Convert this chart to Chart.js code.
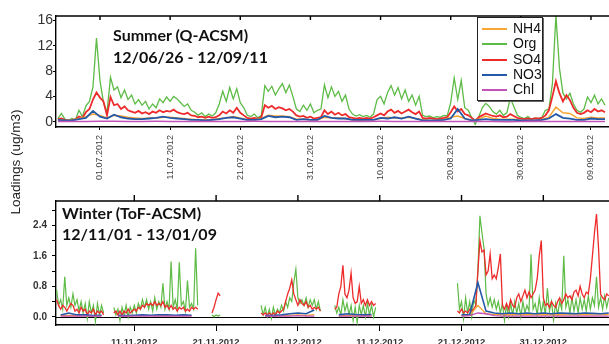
<!DOCTYPE html>
<html>
<head>
<meta charset="utf-8">
<script src="https://cdn.jsdelivr.net/npm/chart.js@4.4.1/dist/chart.umd.min.js"></script>
<style>
html, body { margin: 0; padding: 0; background: #fff; overflow: hidden; }
#wrap { position: relative; width: 609px; height: 344px; overflow: hidden; }
canvas { position: absolute; left: 0; }
#cSum { top: 0; }
#cWin { top: 190px; }
.ttl { position: absolute; font-family: Lato, "Open Sans", sans-serif; font-weight: 700; font-size: 16px; color: #111; white-space: nowrap; }
#ylab { position: absolute; left: -84px; top: 154px; width: 200px; height: 16px; line-height: 16px; text-align: center;
        font-family: "Liberation Sans", Arial, sans-serif; font-size: 13.5px; color: #222; transform: rotate(-90deg); }
#legend { position: absolute; left: 477px; top: 17px; width: 66px; height: 84px; box-sizing: border-box;
          border: 1px solid #222; box-shadow: 1px 1px 0 #666; background: #fff; padding-top: 3px; }
#legend .row { position: relative; height: 15.3px; }
#legend .smp { position: absolute; left: 4px; top: 7px; width: 25px; height: 2px; }
#legend .txt { position: absolute; left: 35px; top: 0; line-height: 15.3px; font-family: "Liberation Sans", Arial, sans-serif; font-size: 14px; color: #111; }
</style>
</head>
<body>
<div id="wrap">
  <canvas id="cSum" width="612" height="190"></canvas>
  <canvas id="cWin" width="612" height="154"></canvas>
  <div class="ttl" style="left:113px; top:24px; line-height:22px;">Summer (Q-ACSM)<br>12/06/26 - 12/09/11</div>
  <div class="ttl" style="left:62px; top:202px; line-height:21px;">Winter (ToF-ACSM)<br>12/11/01 - 13/01/09</div>
  <div id="ylab">Loadings (ug/m3)</div>
  <div id="legend"></div>
</div>
<script>
const N = null;
const seriesNames = ['NH4', 'Org', 'SO4', 'NO3', 'Chl'];
const seriesColors = { NH4: '#f7a633', Org: '#5dbb46', SO4: '#ee2b2b', NO3: '#2458a8', Chl: '#c453b8' };

// ---- summer (day of year 2012) ----
const sumHalfStart = 177, sumHalfStep = 0.5;
const sumOrg = [
  0.5, 1.3, 0.4, 0.2, 0.5, 0.3, 1.8, 0.8, 2.5, 3.2,
  5.5, 13.2, 6.5, 3.0, 1.5, 7.0, 5.0, 5.5, 3.8, 5.0,
  3.5, 4.2, 2.8, 3.5, 2.6, 3.2, 2.0, 2.8, 2.2, 3.6,
  3.0, 3.9, 3.2, 4.0, 3.6, 3.0, 2.4, 2.8, 1.8, 1.5,
  1.0, 1.4, 0.8, 1.2, 0.9, 1.4, 2.8, 4.8, 3.2, 5.4,
  3.6, 5.2, 3.0, 2.2, 1.0, 0.8, 1.2, 0.6, 1.0, 5.7,
  4.8, 5.6, 4.2, 5.2, 6.0, 4.6, 5.8, 4.0, 2.0, 1.6,
  2.6, 1.8, 2.8, 1.4, 1.8, 2.0, 5.8, 3.8, 5.5, 4.0,
  4.8, 3.2, 4.2, 2.0, 1.2, 0.9, 1.1, 0.8, 1.0, 0.7,
  1.2, 3.5, 4.0, 2.8, 4.6, 5.7, 4.2, 5.4, 3.6, 5.0,
  3.2, 4.2, 2.6, 4.0, 1.0, 0.8, 0.9, 0.6, 0.8, 0.7,
  1.0, 0.9, 3.0, 6.9, 3.5, 6.5, 2.2, 1.8, 0.6, -0.4,
  0.8, 2.2, 2.9, 2.4, 1.6, 1.2, 1.8, 1.0, 1.4, 3.7,
  2.4, 1.0, 0.7, 0.5, 0.8, 0.4, 0.6, 0.5, 0.7, 1.8,
  2.0, 6.0, 16.8, 8.5, 4.5, 3.6, 4.5, 2.8, 1.8, 1.5,
  2.0, 3.9, 3.0, 4.2, 2.8, 3.6, 2.6
];
const sumSO4 = [
  0.4, 0.5, 0.3, 0.2, 0.3, 0.4, 0.8, 0.6, 1.5, 2.0,
  3.5, 4.6, 3.8, 3.2, 1.0, 3.9, 2.6, 2.8, 2.0, 2.4,
  1.8, 1.6, 1.4, 1.7, 1.3, 1.5, 1.2, 1.6, 1.4, 1.8,
  1.5, 1.7, 1.6, 1.9, 1.5, 1.3, 1.2, 1.4, 1.0, 0.9,
  0.7, 0.8, 0.6, 0.8, 0.6, 0.7, 1.0, 1.6, 1.3, 1.8,
  1.4, 2.2, 1.4, 1.0, 0.6, 0.5, 0.6, 0.5, 0.7, 2.6,
  2.2, 2.5, 2.0, 2.3, 2.1, 1.8, 2.0, 1.6, 1.0, 0.8,
  0.9, 0.6, 0.8, 0.5, 0.6, 0.7, 1.8, 1.2, 1.6, 1.1,
  1.4, 1.0, 1.2, 0.7, 0.6, 0.5, 0.6, 0.5, 0.6, 0.5,
  0.7, 1.0, 1.3, 1.0, 1.6, 1.9, 1.4, 1.7, 1.3, 1.6,
  1.9, 1.5, 1.2, 1.6, 0.6, 0.5, 0.6, 0.5, 0.4, 0.5,
  0.6, 0.7, 1.5, 2.4, 1.6, 2.0, 1.2, 1.0, 0.6, 0.2,
  0.7, 1.0, 1.3, 1.1, 0.9, 0.8, 1.0, 0.7, 0.8, 1.2,
  0.9, 0.6, 0.5, 0.4, 0.5, 0.4, 0.5, 0.5, 0.6, 1.0,
  1.8, 4.0, 6.4, 4.5, 3.2, 4.2, 3.4, 2.2, 1.4, 1.2,
  1.4, 1.8, 1.5, 2.0, 1.6, 1.8, 1.5
];
const sumDayStart = 177, sumDayStep = 1;
const sumNH4 = [
  0.3, 0.2, 0.3, 0.5, 0.8, 1.2, 1.0, 0.6, 1.0, 0.9,
  0.7, 0.6, 0.5, 0.6, 0.6, 0.7, 0.7, 0.6, 0.5, 0.4,
  0.3, 0.3, 0.3, 0.5, 0.6, 0.8, 0.6, 0.3, 0.3, 0.5,
  1.0, 0.9, 0.9, 0.8, 0.4, 0.4, 0.3, 0.3, 0.7, 0.6,
  0.6, 0.5, 0.3, 0.2, 0.3, 0.3, 0.5, 0.7, 0.6, 0.6,
  0.7, 0.5, 0.3, 0.2, 0.2, 0.3, 0.7, 0.9, 0.5, 0.2,
  0.4, 0.9, 0.5, 0.4, 0.4, 0.4, 0.2, 0.2, 0.2, 0.3,
  0.7, 2.3, 1.4, 1.3, 0.6, 0.5, 0.7, 0.6, 0.6
];
const sumNO3 = [
  0.3, 0.2, 0.2, 0.4, 0.6, 1.7, 0.8, 0.5, 1.1, 0.7,
  0.5, 0.4, 0.4, 0.5, 0.6, 0.8, 0.6, 0.5, 0.4, 0.3,
  0.3, 0.2, 0.3, 0.4, 0.6, 0.7, 0.5, 0.3, 0.3, 0.4,
  0.9, 0.7, 0.8, 0.7, 0.3, 0.4, 0.3, 0.3, 0.9, 0.6,
  0.5, 0.5, 0.3, 0.3, 0.3, 0.3, 0.6, 0.5, 0.7, 0.5,
  0.8, 0.5, 0.2, 0.2, 0.2, 0.3, 0.5, 2.0, 0.5, 0.2,
  0.3, 0.4, 0.3, 0.3, 0.3, 0.3, 0.2, 0.2, 0.2, 0.3,
  0.5, 1.2, 0.6, 0.5, 0.3, 0.3, 0.5, 0.4, 0.4
];
const sumChlStart = 177, sumChlStep = 2;
const sumChl = [
  0.03, 0.02, 0.03, 0.05, 0.07, 0.03, 0.03, 0.05, 0.03, 0.02,
  0.03, 0.03, 0.02, 0.03, 0.05, 0.03, 0.03, 0.02, 0.03, 0.03,
  0.03, 0.02, 0.03, 0.05, 0.03, 0.02, 0.01, 0.03, 0.03, 0.02,
  0.03, 0.01, 0.0, 0.01, 0.07, 0.03, 0.02, 0.03, 0.03, 0.03
];
const sumTickDays = [183, 193, 203, 213, 223, 233, 243, 253];
const sumTickLabels = ['01.07.2012', '11.07.2012', '21.07.2012', '31.07.2012', '10.08.2012', '20.08.2012', '30.08.2012', '09.09.2012'];
const sumYTicks = [0, 2, 4, 6, 8, 10, 12, 14, 16];
const sumYLabels = ['0', '', '4', '', '8', '', '12', '', '16'];

// ---- winter (day of year 2012, >366 = 2013) ----
const winQStart = 306.5, winQStep = 0.25;
const winOrg = [
  0.72, 0.3, 0.45, 0.2, 1.05, 0.3, 0.5, 0.25, 0.6, 0.3, 0.45, 0.15,
  0.4, 0.1, 0.35, -0.05, 0.4, 0.1, 0.3, -0.12, 0.35, 0.05, 0.3, 0.1,
  N, N, N, N,
  0.25, 0.05, 0.2, -0.1, 0.25, 0.05, 0.3, 0.0, 0.25, 0.1,
  0.3, 0.1, 0.35, 0.2, 0.45, 0.25, 0.45, 0.2, 0.4, 0.15,
  0.5, 0.2, 0.4, 0.25, 0.88, 0.2, 0.4, 0.2, 1.45, 0.25,
  0.45, 0.2, 1.43, 0.3, 0.4, 0.15, 0.95, 0.25, 0.35, 0.2,
  1.8, 0.3,
  N, N, N, N, N, N,
  0.05, 0.0, 0.05, 0.02, 0.05,
  N, N, N, N, N, N, N, N, N, N, N, N, N, N, N, N, N, N, N,
  0.3, 0.05, 0.25, 0.0, 0.2, -0.05, 0.25, 0.05, 0.2, 0.1,
  0.3, 0.15, 0.4, 0.25, 0.5, 0.4, 0.9, 1.25, 0.5, 0.35,
  0.45, 0.3, 0.5, 0.25, 0.45, 0.3, 0.45, 0.2, 0.4, 0.15,
  N, N, N, N, N, N,
  0.3, 0.1, 0.25, 0.05, 0.45, 0.15, 0.35, 0.05, 0.3, -0.1,
  0.25, -0.15, 0.3, 0.05, 0.3, 0.0, 0.35, 0.05, 0.3, 0.0,
  0.25,
  N, N, N, N, N, N, N, N, N, N, N, N, N, N, N, N, N, N, N, N,
  N, N, N, N, N, N, N, N, N, N, N, N, N, N, N, N, N, N, N,
  0.88, 0.2, 0.4, -0.05, 0.5, 0.1, 0.4, 0.0, 0.45, 0.3,
  1.2, 2.65, 2.2, 1.8, 0.6, 0.3, 0.5, 0.25, 0.45, 0.2,
  0.4, 0.1, 0.35, -0.1, 0.3, 0.0, 0.35, 0.05, 0.4, 0.1,
  0.35, 0.0, 0.4, 0.1, 0.3, 0.15, 1.64, 0.2, 0.35, 0.05,
  0.5, 0.1, 0.4, 0.05, 0.75, 0.15, 0.4, -0.08, 0.35, 0.05,
  0.4, 0.2, 1.6, 0.25, 0.45, 0.1, 0.5, 0.15, 0.45, 0.1,
  0.5, 0.2, 0.45, 0.15, 0.55, 0.2, 0.5, 0.3, 1.05, 0.25,
  0.5, 0.2, 0.55, 0.25, 0.5
];
const winSO4 = [
  0.45, 0.3, 0.2, 0.3, 0.25, 0.15, 0.25, 0.35, 0.3, 0.15, 0.2, 0.1,
  0.25, 0.15, 0.2, 0.05, 0.15, 0.1, 0.2, 0.05, 0.15, 0.1, 0.15, 0.05,
  N, N, N, N,
  0.1, 0.15, 0.05, 0.15, 0.05, 0.15, 0.1, 0.2, 0.1, 0.15,
  0.2, 0.15, 0.25, 0.2, 0.3, 0.25, 0.35, 0.3, 0.35, 0.3,
  0.4, 0.3, 0.35, 0.3, 0.4, 0.25, 0.3, 0.2, 0.3, 0.2,
  0.25, 0.15, 0.25, 0.2, 0.25, 0.15, 0.2, 0.15, 0.25, 0.2,
  0.25, 0.2,
  N, N, N, N, N, N,
  0.1, 0.25, 0.45, 0.62, 0.55,
  N, N, N, N, N, N, N, N, N, N, N, N, N, N, N, N, N, N, N,
  0.1, 0.05, 0.1, 0.05, 0.1, 0.05, 0.1, 0.05, 0.15, 0.1,
  0.15, 0.2, 0.4, 0.6, 0.75, 0.97, 0.6, 0.45, 0.3, 0.45,
  0.35, 0.3, 0.4, 0.25, 0.3, 0.2, 0.25, 0.2, 0.25, 0.15,
  N, N, N, N, N, N,
  0.2, 0.25, 0.6, 0.8, 1.35, 0.6, 0.5, 0.7, 1.15, 0.5,
  0.35, 0.4, 0.8, 0.35, 0.45, 0.3, 0.45, 0.3, 0.4, 0.3,
  0.35,
  N, N, N, N, N, N, N, N, N, N, N, N, N, N, N, N, N, N, N, N,
  N, N, N, N, N, N, N, N, N, N, N, N, N, N, N, N, N, N, N,
  0.15, 0.1, 0.2, 0.1, 0.15, 0.1, 0.2, 0.15, 0.2, 0.3,
  1.2, 2.0, 1.7, 1.75, 1.1, 1.2, 1.65, 1.0, 1.1, 1.0,
  1.3, 1.65, 0.3, 0.2, 0.35, 0.2, 0.45, 0.3, 0.25, 0.5,
  0.6, 0.4, 0.55, 0.7, 0.5, 0.65, 0.5, 0.6, 0.7, 1.0,
  1.6, 2.0, 0.5, 0.3, 0.35, 0.25, 0.4, 0.3, 0.25, 0.4,
  0.5, 0.35, 0.45, 0.6, 0.5, 0.55, 0.45, 0.65, 0.7, 0.55,
  0.8, 0.6, 0.5, 0.65, 0.6, 1.0, 1.6, 2.2, 2.7, 1.8,
  0.6, 0.5, 0.45, 0.6, 0.55
];
const winDayStart = 307, winDayStep = 1;
const winNH4 = [
  0.03, 0.04, 0.03, 0.03, 0.02, 0.03, N, 0.02, 0.02, 0.03, 0.03, 0.03, 0.03, 0.03, 0.03, 0.03, 0.03,
  N, N, 0.02, N, N, N, N, N,
  0.02, 0.02, 0.03, 0.04, 0.05, 0.04, 0.06, N, N,
  0.03, 0.04, 0.03, 0.03, 0.03,
  N, N, N, N, N, N, N, N, N, N,
  0.03, 0.04, 0.3, 0.08, 0.06, 0.05, 0.06, 0.05, 0.06, 0.05, 0.06, 0.05, 0.06, 0.05, 0.05, 0.06, 0.05, 0.05, 0.06
];
const winNO3 = [
  0.05, 0.1, 0.05, 0.05, 0.03, 0.04, N, 0.03, 0.03, 0.04, 0.05, 0.04, 0.05, 0.05, 0.04, 0.05, 0.04,
  N, N, 0.03, N, N, N, N, N,
  0.03, 0.03, 0.05, 0.08, 0.1, 0.08, 0.18, N, N,
  0.05, 0.08, 0.06, 0.05, 0.06,
  N, N, N, N, N, N, N, N, N, N,
  0.05, 0.06, 0.9, 0.15, 0.1, 0.08, 0.1, 0.08, 0.1, 0.08, 0.1, 0.08, 0.1, 0.09, 0.08, 0.1, 0.09, 0.08, 0.1
];
const winChl = [
  0.02, 0.02, 0.02, 0.02, 0.02, 0.02, N, 0.02, 0.02, 0.02, 0.02, 0.02, 0.02, 0.02, 0.02, 0.02, 0.02,
  N, N, 0.02, N, N, N, N, N,
  0.02, 0.02, 0.02, 0.02, 0.03, 0.02, 0.02, N, N,
  0.02, 0.02, 0.02, 0.02, 0.02,
  N, N, N, N, N, N, N, N, N, N,
  0.02, 0.03, 0.1, 0.08, 0.03, 0.02, 0.02, 0.02, 0.02, 0.02, 0.02, 0.02, 0.02, 0.02, 0.02, 0.02, 0.02, 0.02, 0.02
];
const winTickDays = [316, 326, 336, 346, 356, 366];
const winTickLabels = ['11.11.2012', '21.11.2012', '01.12.2012', '11.12.2012', '21.12.2012', '31.12.2012'];
const winYTicks = [0, 0.4, 0.8, 1.2, 1.6, 2.0, 2.4, 2.8];
const winYLabels = ['0.0', '', '0.8', '', '1.6', '', '2.4', ''];

function pts(start, step, vals) {
  return vals.map((v, i) => ({ x: start + i * step, y: v }));
}
function ds(name, data, width) {
  return { label: name, data: data, borderColor: seriesColors[name], backgroundColor: seriesColors[name], borderWidth: width };
}

const frame = {
  id: 'frame',
  beforeDatasetsDraw(chart, args, o) {
    if (!o.zero) return;
    const { ctx, chartArea: a, scales } = chart;
    const py = Math.round(scales.y.getPixelForValue(0)) + 0.5;
    ctx.save();
    ctx.strokeStyle = '#000';
    ctx.lineWidth = 1.2;
    ctx.beginPath();
    ctx.moveTo(a.left, py);
    ctx.lineTo(a.right, py);
    ctx.stroke();
    ctx.restore();
  },
  afterDatasetsDraw(chart, args, o) {
    const { ctx, chartArea: a, scales } = chart;
    ctx.save();
    ctx.strokeStyle = '#000';
    ctx.lineWidth = 1.4;
    ctx.beginPath();
    ctx.moveTo(a.left, a.top);
    ctx.lineTo(a.right, a.top);
    if (o.box) ctx.lineTo(a.right, a.bottom);
    scales.x.ticks.forEach(t => {
      const px = scales.x.getPixelForValue(t.value);
      ctx.moveTo(px, a.top);
      ctx.lineTo(px, a.top + o.topTicks);
    });
    ctx.stroke();
    ctx.restore();
  }
};

Chart.defaults.font.family = '"Liberation Sans", Arial, sans-serif';

new Chart(document.getElementById('cSum'), {
  type: 'line',
  data: {
    datasets: [
      ds('Chl', pts(sumChlStart, sumChlStep, sumChl), 1.5),
      ds('NO3', pts(sumDayStart, sumDayStep, sumNO3), 1.8),
      ds('NH4', pts(sumDayStart, sumDayStep, sumNH4), 1.5),
      ds('SO4', pts(sumHalfStart, sumHalfStep, sumSO4), 1.8),
      ds('Org', pts(sumHalfStart, sumHalfStep, sumOrg), 1.3)
    ]
  },
  options: {
    responsive: false,
    animation: false,
    devicePixelRatio: 1,
    layout: { padding: { top: 16, right: 2, left: 0, bottom: 0 } },
    elements: { point: { radius: 0 }, line: { tension: 0 } },
    plugins: { legend: { display: false }, tooltip: { enabled: false }, frame: { box: true, topTicks: 4 } },
    scales: {
      x: {
        type: 'linear', min: 176.73, max: 255.71,
        afterBuildTicks: s => { s.ticks = sumTickDays.map(v => ({ value: v })); },
        afterFit: s => { s.height = 63; },
        grid: { drawOnChartArea: false, tickLength: 3, color: '#000' },
        border: { color: '#000', width: 1.4 },
        ticks: { autoSkip: false, minRotation: 90, maxRotation: 90, padding: 5, color: '#444', font: { size: 9 },
                 callback: (v, i) => sumTickLabels[i] }
      },
      y: {
        min: -0.84, max: 16.7,
        afterBuildTicks: s => { s.ticks = sumYTicks.map(v => ({ value: v })); },
        afterFit: s => { s.width = 56; },
        grid: { drawOnChartArea: false, tickLength: 3, color: '#000' },
        border: { color: '#000', width: 1.4 },
        ticks: { padding: 0, color: '#333', font: { size: 14 }, callback: (v, i) => sumYLabels[i] }
      }
    }
  },
  plugins: [frame]
});

new Chart(document.getElementById('cWin'), {
  type: 'line',
  data: {
    datasets: [
      ds('Chl', pts(winDayStart, winDayStep, winChl), 1.3),
      ds('NO3', pts(winDayStart, winDayStep, winNO3), 1.6),
      ds('NH4', pts(winDayStart, winDayStep, winNH4), 1.3),
      ds('SO4', pts(winQStart, winQStep, winSO4), 1.3),
      ds('Org', pts(winQStart, winQStep, winOrg), 1.2)
    ]
  },
  options: {
    responsive: false,
    animation: false,
    devicePixelRatio: 1,
    layout: { padding: { top: 6, right: 2, left: 0, bottom: 0 } },
    elements: { point: { radius: 0 }, line: { tension: 0 } },
    plugins: { legend: { display: false }, tooltip: { enabled: false }, frame: { box: false, zero: true, topTicks: -6 } },
    scales: {
      x: {
        type: 'linear', min: 306.43, max: 374.15,
        afterBuildTicks: s => { s.ticks = winTickDays.map(v => ({ value: v })); },
        afterFit: s => { s.height = 19; },
        grid: { drawOnChartArea: false, tickLength: 6, color: '#000' },
        border: { color: '#000', width: 1.4 },
        ticks: { autoSkip: false, minRotation: 0, maxRotation: 0, padding: 6, color: '#333', font: { size: 9.5, weight: 'bold' },
                 callback: (v, i) => winTickLabels[i] }
      },
      y: {
        min: -0.215, max: 3.04,
        afterBuildTicks: s => { s.ticks = winYTicks.map(v => ({ value: v })); },
        afterFit: s => { s.width = 56; },
        grid: { drawOnChartArea: false, tickLength: 4, color: '#000' },
        border: { color: '#000', width: 1.4 },
        ticks: { padding: 5, color: '#333', font: { size: 10, weight: 'bold' }, callback: (v, i) => winYLabels[i] }
      }
    }
  },
  plugins: [frame]
});

// legend
const lg = document.getElementById('legend');
seriesNames.forEach(n => {
  const row = document.createElement('div');
  row.className = 'row';
  row.innerHTML = '<div class="smp" style="background:' + seriesColors[n] + '"></div><div class="txt">' + n + '</div>';
  lg.appendChild(row);
});
</script>
</body>
</html>
